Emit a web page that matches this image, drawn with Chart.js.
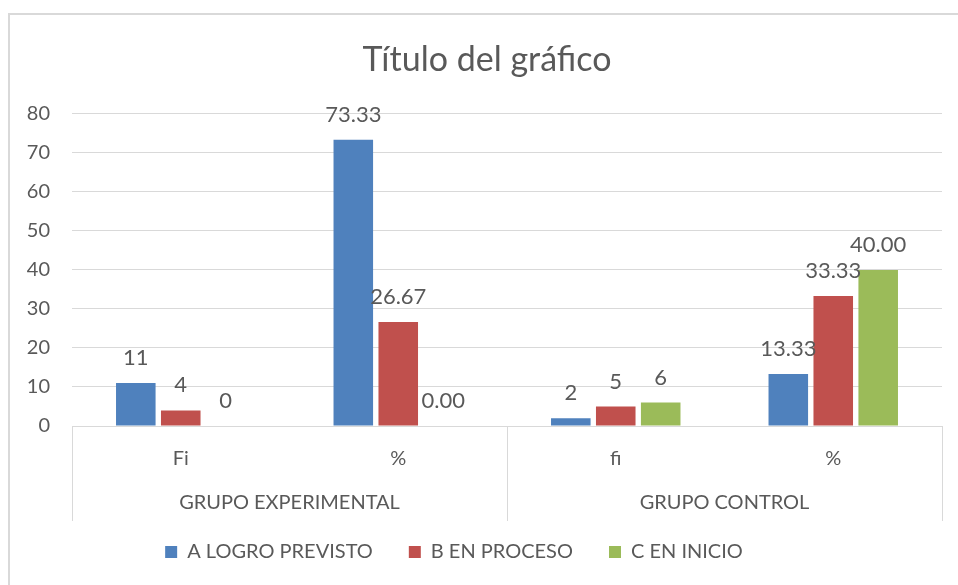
<!DOCTYPE html>
<html>
<head>
<meta charset="utf-8">
<script src="https://cdn.jsdelivr.net/npm/chart.js@4"></script>
<style>
  html, body { margin: 0; padding: 0; background: #fff; }
  #frame {
    position: absolute; left: 8px; top: 13px; width: 980px; height: 600px;
    border: 2px solid #d9d9d9; box-sizing: border-box;
  }
  #wrap { position: absolute; left: 0; top: 0; width: 958px; height: 585px; }
</style>
</head>
<body>
<div id="frame"></div>
<div id="wrap"><canvas id="barChart" width="958" height="585"></canvas></div>
<script>
// Datos del gráfico
const categories = ['Fi', '%', 'fi', '%'];
const groupLabels = ['GRUPO EXPERIMENTAL', 'GRUPO CONTROL'];
const groupSpans = [[0, 1], [2, 3]];
const logroPrevisto = [11, 73.33, 2, 13.33];
const enProceso = [4, 26.67, 5, 33.33];
const enInicio = [0, 0, 6, 40];
const labelDecimals = [0, 2, 0, 2];
const yTicks = [0, 10, 20, 30, 40, 50, 60, 70, 80];

const textColor = '#595959';
const lineColor = '#d9d9d9';
const fontFamily = 'Lato, "Open Sans", sans-serif';

// Etiquetas de datos encima de cada barra
const valueLabels = {
    id: 'valueLabels',
    afterDatasetsDraw(chart) {
        const { ctx } = chart;
        ctx.save();
        ctx.font = `22px ${fontFamily}`;
        ctx.fillStyle = textColor;
        ctx.textAlign = 'center';
        ctx.textBaseline = 'middle';
        chart.data.datasets.forEach((ds, di) => {
            chart.getDatasetMeta(di).data.forEach((bar, i) => {
                const txt = ds.data[i].toFixed(labelDecimals[i]);
                ctx.fillText(txt, bar.x, bar.y - 25);
            });
        });
        ctx.restore();
    }
};

// Eje de categorías con dos niveles (grupos)
const groupAxis = {
    id: 'groupAxis',
    afterLayout(chart) {
        // en el original la leyenda está corrida a la izquierda y el título a la derecha
        chart.legend.right -= 54;
        chart.titleBlock.left += 12;
    },
    afterDraw(chart) {
        const { ctx, chartArea } = chart;
        const x = chart.scales.x;
        const top = chartArea.bottom;
        const bottom = top + 95;
        const step = x.getPixelForValue(1) - x.getPixelForValue(0);
        ctx.save();
        ctx.strokeStyle = lineColor;
        ctx.lineWidth = 1;
        const edges = [x.left];
        groupSpans.forEach(([, to]) => edges.push(x.getPixelForValue(to) + step / 2));
        edges.forEach(px => {
            const p = Math.round(px) + 0.5;
            ctx.beginPath();
            ctx.moveTo(p, top);
            ctx.lineTo(p, bottom);
            ctx.stroke();
        });
        ctx.font = `20px ${fontFamily}`;
        ctx.fillStyle = textColor;
        ctx.textAlign = 'center';
        ctx.textBaseline = 'middle';
        groupSpans.forEach(([from, to], g) => {
            const cx = (x.getPixelForValue(from) + x.getPixelForValue(to)) / 2;
            ctx.fillText(groupLabels[g], cx, top + 77);
        });
        ctx.restore();
    }
};

new Chart(document.getElementById('barChart'), {
    type: 'bar',
    data: {
        labels: categories,
        datasets: [
            { label: 'A LOGRO PREVISTO', data: logroPrevisto, backgroundColor: '#4f81bd' },
            { label: 'B EN PROCESO', data: enProceso, backgroundColor: '#c0504d' },
            { label: 'C EN INICIO', data: enInicio, backgroundColor: '#9bbb59' }
        ]
    },
    options: {
        responsive: false,
        animation: false,
        layout: { padding: { left: 20, right: 16, top: 0, bottom: 13 } },
        datasets: { bar: { categoryPercentage: 0.62, barPercentage: 0.88 } },
        plugins: {
            title: {
                display: true,
                text: 'Título del gráfico',
                color: textColor,
                font: { family: fontFamily, size: 34, weight: 'normal' },
                padding: { top: 40, bottom: 33 }
            },
            legend: {
                position: 'bottom',
                labels: {
                    color: textColor,
                    boxWidth: 12,
                    boxHeight: 12,
                    padding: 36,
                    font: { family: fontFamily, size: 20 }
                }
            },
            tooltip: { enabled: false }
        },
        scales: {
            x: {
                grid: { display: false, drawTicks: false },
                border: { display: false },
                ticks: { color: textColor, font: { family: fontFamily, size: 20 }, padding: 21 },
                afterFit: scale => { scale.height = 80; }
            },
            y: {
                min: 0,
                max: 80,
                afterBuildTicks: scale => { scale.ticks = yTicks.map(v => ({ value: v })); },
                grid: { color: lineColor, drawTicks: false },
                border: { display: false },
                ticks: { color: textColor, font: { family: fontFamily, size: 20 }, padding: 22 },
                afterFit: scale => { scale.width = 52; }
            }
        }
    },
    plugins: [valueLabels, groupAxis]
});
</script>
</body>
</html>
